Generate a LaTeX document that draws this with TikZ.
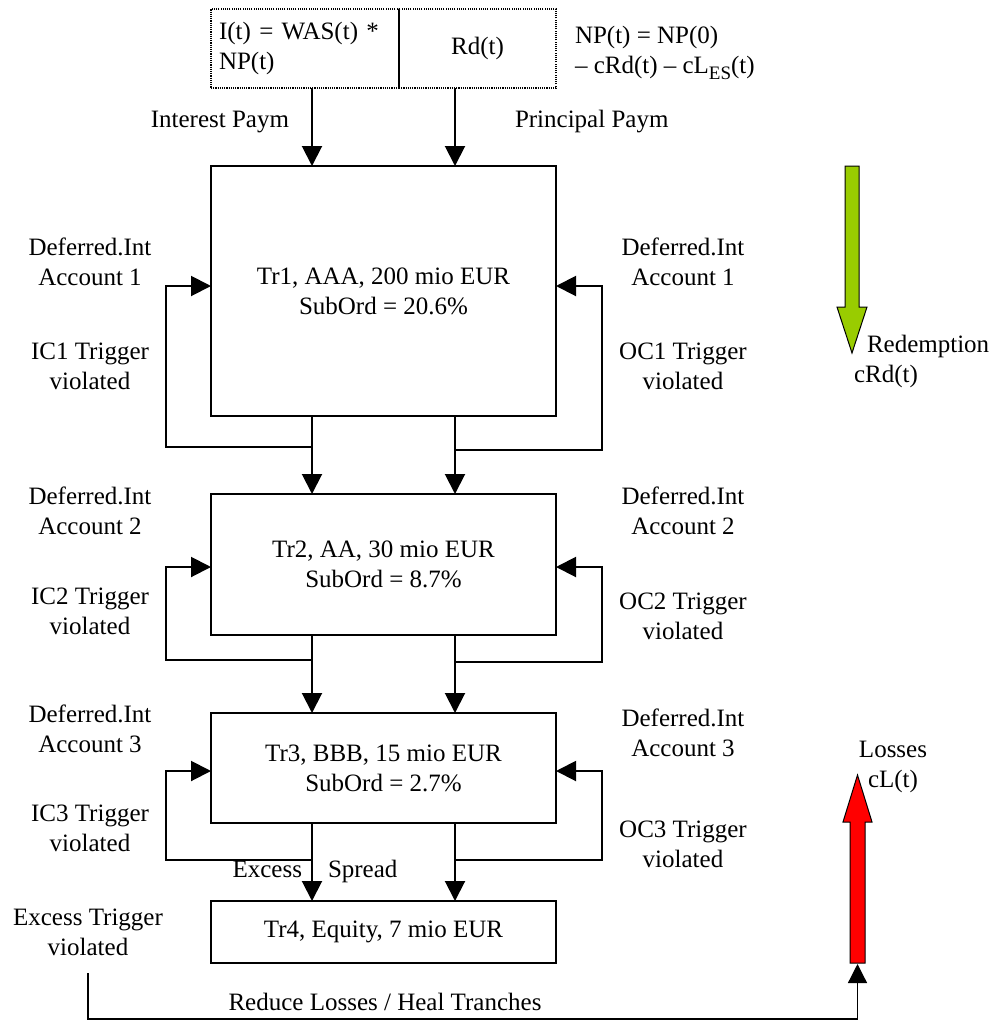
\documentclass[tikz,border=0pt]{standalone}
\usepackage{fontspec}
\setmainfont{Liberation Serif}
\usetikzlibrary{arrows.meta}
\definecolor{redempgreen}{RGB}{153,204,0}
\definecolor{lossred}{RGB}{255,0,0}
\begin{document}
\begin{tikzpicture}[x=1pt,y=-1pt,
  font=\fontsize{25}{30}\selectfont,
  every node/.style={inner sep=0pt, outer sep=0pt},
  tranche/.style={draw, line width=2pt, minimum width=345pt, align=center},
  lbl/.style={align=center},
  arr/.style={line width=2pt, -{Triangle[width=20pt,length=20pt]}},
  thinarr/.style={line width=1.3pt, -{Triangle[width=19pt,length=19pt]}},
  dotbox/.style={draw, line width=1.1pt, dash pattern=on 1.1pt off 1.1pt, minimum height=79pt},
  bigarrow/.style={draw=black, line width=1pt, line join=miter},
]
\useasboundingbox (0,0) rectangle (996,1021);

% top source box
\node[dotbox, minimum width=188pt, text width=172pt, inner xsep=8pt, align=left] (topL) at (305,48.5) {I(t) = WAS(t) *\\NP(t)};
\node[dotbox, minimum width=157pt] (topR) at (477.5,48.5) {Rd(t)};
\node[anchor=west, align=left] (np) at (575,53) {NP(t) = NP(0)\\– cRd(t) – cL\raisebox{-6pt}{\fontsize{19}{19}\selectfont ES}(t)};
\node[anchor=east] (ip) at (289,122) {Interest Paym};
\node[anchor=west] (pp) at (515,122) {Principal Paym};

% tranches
\node[tranche, minimum height=250pt] (tr1) at (383.5,291) {Tr1, AAA, 200 mio EUR\\SubOrd = 20.6\%};
\node[tranche, minimum height=141pt] (tr2) at (383.5,564.5) {Tr2, AA, 30 mio EUR\\SubOrd = 8.7\%};
\node[tranche, minimum height=110pt] (tr3) at (383.5,768) {Tr3, BBB, 15 mio EUR\\SubOrd = 2.7\%};
\node[tranche, minimum height=62pt] (tr4) at (383.5,932) {Tr4, Equity, 7 mio EUR};

% side labels
\node[lbl] (d1L) at (90,262) {Deferred.Int\\Account 1};
\node[lbl] (d1R) at (683,262) {Deferred.Int\\Account 1};
\node[lbl] (ic1) at (90,366) {IC1 Trigger\\violated};
\node[lbl] (oc1) at (683,366) {OC1 Trigger\\violated};
\node[lbl] (d2L) at (90,511) {Deferred.Int\\Account 2};
\node[lbl] (d2R) at (683,511) {Deferred.Int\\Account 2};
\node[lbl] (ic2) at (90,611) {IC2 Trigger\\violated};
\node[lbl] (oc2) at (683,616) {OC2 Trigger\\violated};
\node[lbl] (d3L) at (90,729) {Deferred.Int\\Account 3};
\node[lbl] (d3R) at (683,733) {Deferred.Int\\Account 3};
\node[lbl] (ic3) at (90,828) {IC3 Trigger\\violated};
\node[lbl] (oc3) at (683,844) {OC3 Trigger\\violated};
\node[lbl] (ext) at (88,932) {Excess Trigger\\violated};
\node (es) at (315,871) {Excess\hspace{26pt}Spread};
\node (heal) at (385,1002) {Reduce Losses / Heal Tranches};

% stream columns
\coordinate (xL) at (312,0);
\coordinate (xR) at (455,0);

\draw[arr] (topL.south -| xL) -- (tr1.north -| xL);
\draw[arr] (topR.south -| xR) -- (tr1.north -| xR);
\draw[arr] (tr1.south -| xL) -- (tr2.north -| xL);
\draw[arr] (tr1.south -| xR) -- (tr2.north -| xR);
\draw[arr] (tr2.south -| xL) -- (tr3.north -| xL);
\draw[arr] (tr2.south -| xR) -- (tr3.north -| xR);
\draw[arr] (tr3.south -| xL) -- (tr4.north -| xL);
\draw[arr] (tr3.south -| xR) -- (tr4.north -| xR);

% trigger loops
\coordinate (j1L) at (312,447); \coordinate (c1L) at (166,286);
\coordinate (j1R) at (455,450); \coordinate (c1R) at (602,286);
\coordinate (j2L) at (312,660); \coordinate (c2L) at (166,567);
\coordinate (j2R) at (455,662); \coordinate (c2R) at (602,567);
\coordinate (j3L) at (312,860); \coordinate (c3L) at (166,771);
\coordinate (j3R) at (455,860); \coordinate (c3R) at (602,771);
\draw[arr] (j1L) -| (c1L) -- (tr1.west |- c1L);
\draw[arr] (j1R) -| (c1R) -- (tr1.east |- c1R);
\draw[arr] (j2L) -| (c2L) -- (tr2.west |- c2L);
\draw[arr] (j2R) -| (c2R) -- (tr2.east |- c2R);
\draw[arr] (j3L) -| (c3L) -- (tr3.west |- c3L);
\draw[arr] (j3R) -| (c3R) -- (tr3.east |- c3R);

% redemption arrow
\filldraw[bigarrow, fill=redempgreen] (845,166) -- (859,166) -- (859,307) -- (867,307) -- (852,353) -- (837,307) -- (845,307) -- cycle;
\node[anchor=west, align=left] (red) at (854,361) {\hspace*{13pt}Redemption\\cRd(t)};

% losses arrow
\filldraw[bigarrow, fill=lossred] (850,963) -- (865,963) -- (865,822) -- (872,822) -- (857.5,775) -- (843,822) -- (850,822) -- cycle;
\node[lbl] (loss) at (893,767) {Losses\\cL(t)};

% excess spread connector
\coordinate (exs) at (88,973);
\coordinate (bl) at (88,1019);
\coordinate (redbot) at (857.5,964);
\draw[thinarr] (exs) -- (bl) -| (redbot);
\end{tikzpicture}
\end{document}
